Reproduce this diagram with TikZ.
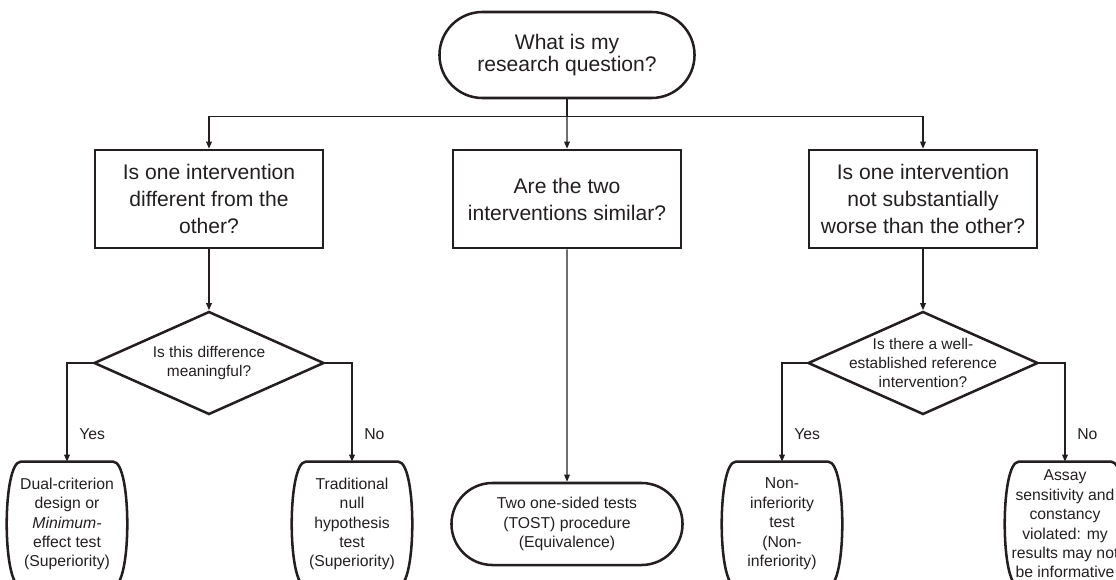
\documentclass[tikz,border=0pt]{standalone}
\usepackage{fontspec}
\setmainfont{Liberation Sans}
\usepackage{tikz}
\usetikzlibrary{shapes.geometric, shapes.misc, arrows.meta, positioning, calc}
\definecolor{inkblack}{HTML}{231F20}

\tikzset{
  frame/.style={draw=inkblack, line width=1.8pt},
  startbox/.style={frame, rounded rectangle, minimum width=6.375cm, minimum height=2.15cm, inner sep=0pt, align=center, font=\fontsize{15}{15.5}\selectfont},
  qbox/.style={frame, rectangle, minimum width=5.7cm, minimum height=2.45cm, inner sep=0pt, align=center, font=\fontsize{15}{19.2}\selectfont},
  qdiamond/.style={frame, diamond, aspect=2.23, minimum width=5.75cm, minimum height=2.575cm, inner sep=-12pt, align=center, font=\fontsize{11}{13.6}\selectfont},
  endbox/.style={frame, rounded rectangle, minimum width=5.775cm, minimum height=2.05cm, inner sep=0pt, align=center, font=\fontsize{11.2}{13.8}\selectfont},
  leaf/.style={rectangle, minimum width=3cm, minimum height=3.1cm, inner sep=0pt, align=center, font=\fontsize{11.2}{13.8}\selectfont},
  conn/.style={draw=inkblack, line width=0.9pt, -{Triangle[length=5pt, width=4pt]}},
  lbl/.style={font=\fontsize{11.2}{13.8}\selectfont, anchor=west, xshift=5pt},
}

% outline of an outcome box: flat top and bottom, bulging sides
\newcommand{\leafframe}[1]{%
  \draw[frame] ($(#1.north west)+(\leafsag,0)$) -- ($(#1.north east)+(-\leafsag,0)$)
    .. controls ($(#1.north east)+(\leafsag/3,0)$) and ($(#1.south east)+(\leafsag/3,0)$) .. ($(#1.south east)+(-\leafsag,0)$)
    -- ($(#1.south west)+(\leafsag,0)$)
    .. controls ($(#1.south west)+(-\leafsag/3,0)$) and ($(#1.north west)+(-\leafsag/3,0)$) .. cycle;}

\begin{document}
\begin{tikzpicture}[x=0.025cm, y=-0.025cm, color=inkblack]
  \def\leafsag{14}

  % page, cut like the original figure
  \useasboundingbox (0,0) rectangle (1116,579);
  \clip (0,0) rectangle (1116,579);

  % Start
  \node[startbox] (question) at (567,55) {What is my\\research question?};

  % Question boxes
  \node[qbox] (different) at (209,199) {Is one intervention\\different from the\\other?};
  \node[qbox] (similar) at (567,199) {Are the two\\interventions similar?};
  \node[qbox] (worse) at (923,199) {Is one intervention\\not substantially\\worse than the other?};

  % Decisions
  \node[qdiamond] (meaningful) at (209,363) {Is this difference\\meaningful?};
  \node[qdiamond] (reference) at (923,363) {Is there a well-\\established reference\\intervention?};

  % Outcomes
  \node[leaf] (dualcrit) at (67,524) {Dual-criterion\\design or\\\textit{Minimum-}\\effect test\\(Superiority)};
  \node[leaf] (nhst) at (352,524) {Traditional\\null\\hypothesis\\test\\(Superiority)};
  \node[endbox] (tost) at (567,524) {Two one-sided tests\\(TOST) procedure\\(Equivalence)};
  \node[leaf] (noninf) at (782,524) {Non-\\inferiority\\test\\(Non-\\inferiority)};
  \node[leaf] (assay) at (1065,524) {Assay\\sensitivity and\\constancy\\violated: my\\results may not\\be informative};
  \leafframe{dualcrit}
  \leafframe{nhst}
  \leafframe{noninf}
  \leafframe{assay}

  % Connectors
  \draw[conn] (question.south) -- ++(0,17) -| (different.north);
  \draw[conn] (question) -- (similar);
  \draw[conn] (question.south) -- ++(0,17) -| (worse.north);
  \draw[conn] (different) -- (meaningful);
  \draw[conn] (similar) -- (tost);
  \draw[conn] (worse) -- (reference);
  \draw[conn] (meaningful.west) -| node[lbl, pos=0.86] {Yes} (dualcrit.north);
  \draw[conn] (meaningful.east) -| node[lbl, pos=0.86] {No} (nhst.north);
  \draw[conn] (reference.west) -| node[lbl, pos=0.86] {Yes} (noninf.north);
  \draw[conn] (reference.east) -| node[lbl, pos=0.86] {No} (assay.north);
\end{tikzpicture}
\end{document}
